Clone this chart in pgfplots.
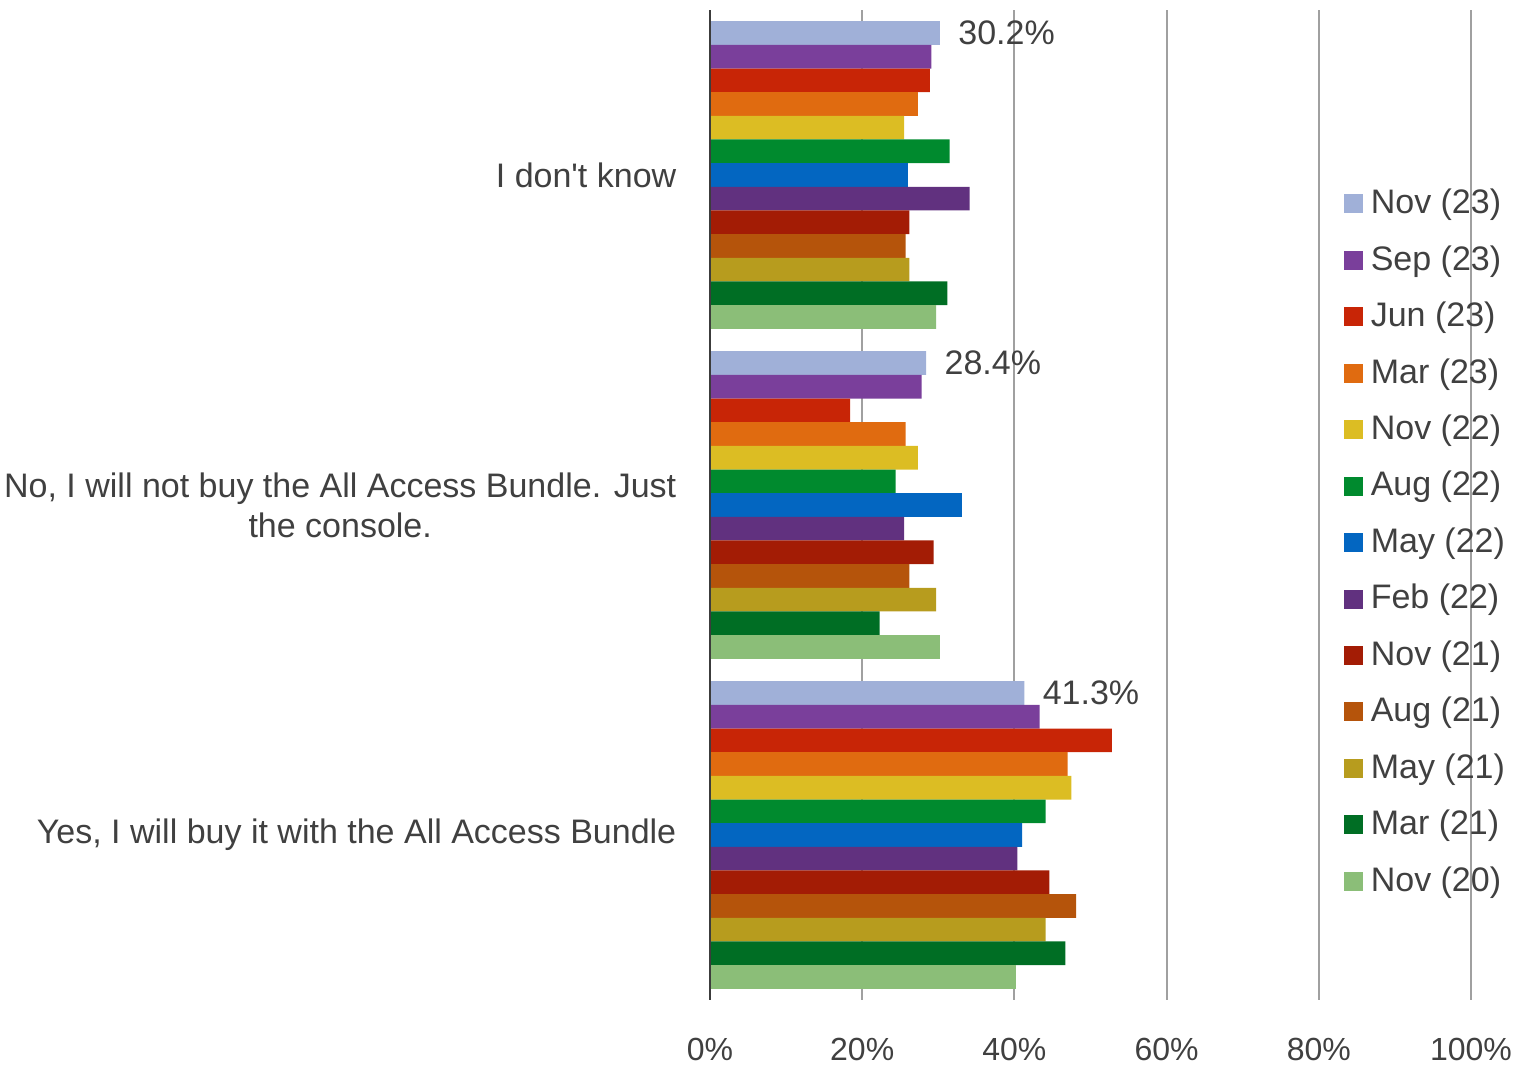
\documentclass[border=0pt]{standalone}
\usepackage{pgfplots}
\pgfplotsset{compat=1.18}
\usepackage{fontspec}
\setmainfont{Liberation Sans}
\newfontfamily\plainfont{Liberation Sans}
\definecolor{txt}{RGB}{64,64,64}
\definecolor{gridc}{RGB}{160,160,160}
\definecolor{axc}{RGB}{60,60,60}
\definecolor{cA}{RGB}{160,176,216}
\definecolor{cB}{RGB}{122,63,155}
\definecolor{cC}{RGB}{200,37,6}
\definecolor{cD}{RGB}{224,107,16}
\definecolor{cE}{RGB}{220,189,35}
\definecolor{cF}{RGB}{0,138,46}
\definecolor{cG}{RGB}{3,102,193}
\definecolor{cH}{RGB}{97,49,127}
\definecolor{cI}{RGB}{163,28,5}
\definecolor{cJ}{RGB}{181,84,11}
\definecolor{cK}{RGB}{183,156,30}
\definecolor{cL}{RGB}{0,110,36}
\definecolor{cM}{RGB}{139,190,120}
\pgfplotsset{leg/.style={legend image code/.code={\fill[##1] (0pt,-4.75pt) rectangle (9.5pt,4.75pt); \path (11.2pt,0pt);}}}
\begin{document}
\fontsize{17}{20}\selectfont
\begin{tikzpicture}
\useasboundingbox (0,0) rectangle (768pt,532.5pt);
\begin{axis}[
  at={(355pt,32.5pt)}, anchor=south west,
  scale only axis, width=380.5pt, height=495pt,
  xbar, bar width=0.0717,
  xmin=0, xmax=100, ymin=-0.5, ymax=2.5,
  axis line style={draw=none},
  xtick={0,20,40,60,80,100},
  xmajorgrids, grid style={draw=gridc, line width=1pt},
  major tick length=0pt,
  /pgf/number format/assume math mode=true,
  xticklabel={\pgfmathprintnumber{\tick}\%},
  xticklabel style={font=\fontsize{16}{20}\selectfont, text=txt, yshift=-13pt},
  ytick={0,1,2},
  yticklabels={{Yes, I will buy it with the All Access Bundle},{No, I will not buy the All Access Bundle. Just\\the console.},{\plainfont I don't know}},
  yticklabel style={font=\fontsize{17}{20}\selectfont, text=txt, align=center, xshift=-11pt},
  legend style={at={(0.8331,0.462)}, anchor=west, draw=none, fill=none, inner sep=0pt,
    font=\fontsize{17}{20}\selectfont, text=txt, row sep=9.35pt},
  legend cell align=left,
  clip=false,
]
\addplot[leg, fill=cA, draw=none, bar shift=0.4302, point meta=x, nodes near coords={\pgfmathprintnumber[fixed,fixed zerofill,precision=1]{\pgfplotspointmeta}\%},
  nodes near coords style={anchor=west, font=\fontsize{17}{20}\selectfont, text=txt, xshift=3.4pt}]
  coordinates {(30.2,2) (28.4,1) (41.3,0)};
\addplot[leg, fill=cB, draw=none, bar shift=0.3585] coordinates {(29.1,2) (27.8,1) (43.3,0)};
\addplot[leg, fill=cC, draw=none, bar shift=0.2868] coordinates {(28.9,2) (18.4,1) (52.8,0)};
\addplot[leg, fill=cD, draw=none, bar shift=0.2151] coordinates {(27.3,2) (25.7,1) (47.0,0)};
\addplot[leg, fill=cE, draw=none, bar shift=0.1434] coordinates {(25.5,2) (27.3,1) (47.5,0)};
\addplot[leg, fill=cF, draw=none, bar shift=0.0717] coordinates {(31.5,2) (24.4,1) (44.1,0)};
\addplot[leg, fill=cG, draw=none, bar shift=0] coordinates {(26.0,2) (33.1,1) (41.0,0)};
\addplot[leg, fill=cH, draw=none, bar shift=-0.0717] coordinates {(34.1,2) (25.5,1) (40.4,0)};
\addplot[leg, fill=cI, draw=none, bar shift=-0.1434] coordinates {(26.2,2) (29.4,1) (44.6,0)};
\addplot[leg, fill=cJ, draw=none, bar shift=-0.2151] coordinates {(25.7,2) (26.2,1) (48.1,0)};
\addplot[leg, fill=cK, draw=none, bar shift=-0.2868] coordinates {(26.2,2) (29.7,1) (44.1,0)};
\addplot[leg, fill=cL, draw=none, bar shift=-0.3585] coordinates {(31.2,2) (22.3,1) (46.7,0)};
\addplot[leg, fill=cM, draw=none, bar shift=-0.4302] coordinates {(29.7,2) (30.2,1) (40.2,0)};
\legend{Nov (23),Sep (23),Jun (23),Mar (23),Nov (22),Aug (22),May (22),Feb (22),Nov (21),Aug (21),May (21),Mar (21),Nov (20)}
\draw[axc, line width=1pt] (axis cs:0,-0.5) -- (axis cs:0,2.5);
\end{axis}
\end{tikzpicture}
\end{document}
